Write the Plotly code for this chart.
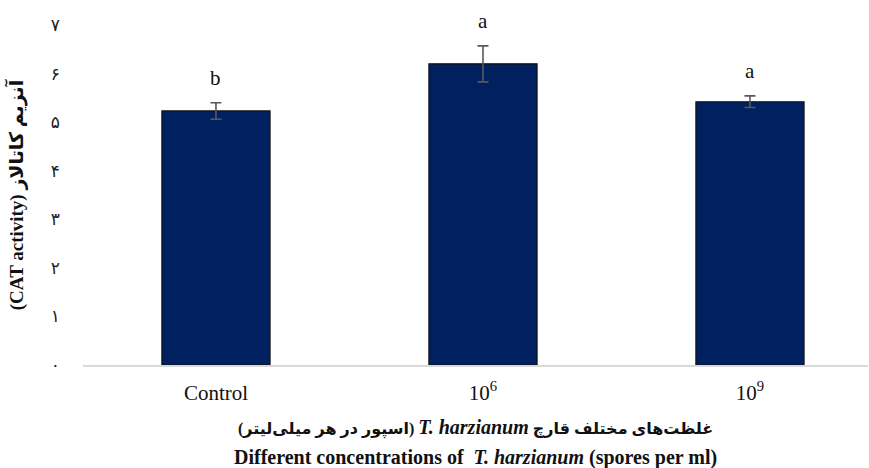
import plotly.graph_objects as go

# CAT activity for each spore concentration of T. harzianum
categories = ["Control", "10<sup>6</sup>", "10<sup>9</sup>"]
cat_activity = [5.23, 6.20, 5.42]
std_error = [0.17, 0.37, 0.12]
group_letters = ["b", "a", "a"]

y_tick_values = [0, 1, 2, 3, 4, 5, 6, 7]
y_tick_labels = ["۰", "۱", "۲", "۳", "۴", "۵", "۶", "۷"]

BAR_COLOR = "#002060"
ERR_COLOR = "#595959"
SERIF = "Liberation Serif, DejaVu Serif, DejaVu Sans, serif"

fig = go.Figure()
fig.add_trace(go.Bar(
    x=categories,
    y=cat_activity,
    width=0.405,
    marker=dict(color=BAR_COLOR, line=dict(color="#111111", width=1.2)),
    error_y=dict(type="data", array=std_error, visible=True,
                 color=ERR_COLOR, thickness=1.6, width=5.5),
    showlegend=False,
    hoverinfo="x+y",
))

# significance letters above each error bar
for cat, val, err, letter in zip(categories, cat_activity, std_error, group_letters):
    fig.add_annotation(
        x=cat, y=val + err, xref="x", yref="y",
        text=letter, showarrow=False,
        yanchor="middle", yshift=25,
        font=dict(family=SERIF, size=21, color="#111111"),
    )

H = 468
TOP, BOTTOM = 25, 103
plot_h = H - TOP - BOTTOM


def px_to_paper(row):
    return (H - BOTTOM - row) / plot_h


# two-line x axis title (Persian + English)
fig.add_annotation(
    x=0.5, y=px_to_paper(427), xref="paper", yref="paper",
    text=("\u202b<b>غلظت‌های مختلف قارچ "
          "<span style='font-size:20px'><i>T. harzianum</i></span>"
          " (اسپور در هر میلی‌لیتر)</b>\u202c"),
    showarrow=False, xanchor="center", yanchor="middle",
    font=dict(family=SERIF, size=16, color="#111111"),
)
fig.add_annotation(
    x=0.5, y=px_to_paper(457), xref="paper", yref="paper",
    text="<b>Different concentrations of  <i>T. harzianum</i> (spores per ml)</b>",
    showarrow=False, xanchor="center", yanchor="middle",
    font=dict(family=SERIF, size=20, color="#111111"),
)

fig.update_layout(
    width=869, height=H,
    margin=dict(l=83, r=1, t=TOP, b=BOTTOM),
    paper_bgcolor="white", plot_bgcolor="white",
    xaxis=dict(
        range=[-0.498, 2.442],
        showline=True, linecolor="#d9d9d9", linewidth=1.5,
        showgrid=False, ticks="",
        ticklabelstandoff=8,
        tickfont=dict(family=SERIF, size=21, color="#111111"),
    ),
    yaxis=dict(
        range=[0, 7],
        tickvals=y_tick_values, ticktext=y_tick_labels,
        showgrid=False, zeroline=False, showline=False, ticks="",
        ticklabelstandoff=22,
        tickfont=dict(family="DejaVu Sans, sans-serif", size=17, color="#222222"),
        title=dict(
            text="<b>(CAT activity) آنزیم کاتالاز</b>",
            font=dict(family=SERIF, size=19, color="#111111"),
            standoff=22,
        ),
    ),
)

fig.write_html("out.html")
